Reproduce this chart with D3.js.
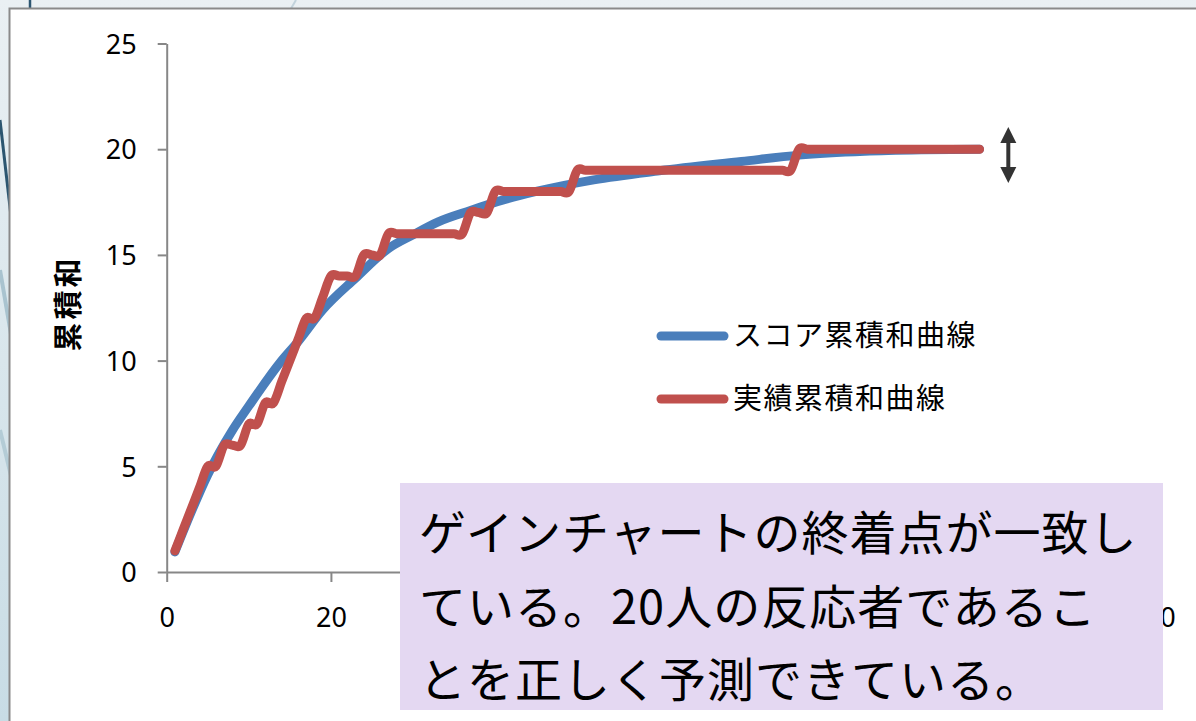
<!DOCTYPE html>
<html>
<head>
<meta charset="utf-8">
<script src="https://cdn.jsdelivr.net/npm/d3@7/dist/d3.min.js"></script>
<style>
  html, body { margin: 0; padding: 0; background: #ffffff; }
  svg { display: block; }
</style>
</head>
<body>
<svg id="chart" width="1196" height="721"></svg>
<script>
// Cumulative count of actual responders, customers ranked 1..99 by score
const actualCumulative = [
  1, 2, 3, 4, 5, 5, 6, 6, 6, 7,
  7, 8, 8, 9, 10, 11, 12, 12, 13, 14,
  14, 14, 14, 15, 15, 15, 16, 16, 16, 16,
  16, 16, 16, 16, 16, 16, 17, 17, 17, 18,
  18, 18, 18, 18, 18, 18, 18, 18, 18, 19,
  19, 19, 19, 19, 19, 19, 19, 19, 19, 19,
  19, 19, 19, 19, 19, 19, 19, 19, 19, 19,
  19, 19, 19, 19, 19, 19, 20, 20, 20, 20,
  20, 20, 20, 20, 20, 20, 20, 20, 20, 20,
  20, 20, 20, 20, 20, 20, 20, 20, 20
];

// Cumulative sum of predicted scores, sampled along the ranking
const scoreRank = [1, 3, 5, 8, 10, 14, 16, 19, 23, 27, 30, 33, 37, 41, 45, 52, 60, 70, 77, 85, 92, 99];
const scoreCumulative = [0.95, 2.85, 4.6, 6.7, 7.85, 10.0, 10.9, 12.4, 13.9, 15.3, 15.95, 16.55, 17.1, 17.6, 18.0, 18.55, 18.98, 19.42, 19.72, 19.9, 19.97, 20.0];

const xTicks = [0, 20, 40, 60, 80, 100, 120];
const yTicks = [0, 5, 10, 15, 20, 25];

const yTitle = "累積和";
const seriesNames = ["スコア累積和曲線", "実績累積和曲線"];
const seriesColors = ["#4a7ebb", "#c0504d"];
const noteLines = [
  "ゲインチャートの終着点が一致し",
  "ている。20人の反応者であるこ",
  "とを正しく予測できている。"
];

// Double arrow marking the shared end point (x, from, to)
const arrowX = 102.5;
const arrowFrom = 21.05;
const arrowTo = 18.4;

const svg = d3.select("#chart");
const W = 1196, H = 721;

// ---- slide background around the chart frame ----
const defs = svg.append("defs");
const bg = defs.append("linearGradient").attr("id", "bgGrad")
  .attr("x1", 0).attr("y1", 0).attr("x2", 0).attr("y2", 1);
bg.append("stop").attr("offset", "0%").attr("stop-color", "#eaf0f3");
bg.append("stop").attr("offset", "100%").attr("stop-color", "#c8dce5");
svg.append("rect").attr("width", W).attr("height", H).attr("fill", "url(#bgGrad)");

const deco = svg.append("g").attr("fill", "none");
deco.append("path").attr("d", "M0,120 L12,225").attr("stroke", "#2c5670").attr("stroke-width", 3);
deco.append("path").attr("d", "M0,270 L12,340").attr("stroke", "#a9c3cf").attr("stroke-width", 4);
deco.append("path").attr("d", "M0,430 L12,480").attr("stroke", "#b4ccd6").attr("stroke-width", 4);
deco.append("path").attr("d", "M30,0 L30,12").attr("stroke", "#2c5670").attr("stroke-width", 2.5);
deco.append("path").attr("d", "M296,0 L289,12").attr("stroke", "#c2d3dc").attr("stroke-width", 2);

// chart frame
svg.append("rect")
  .attr("x", 9.5).attr("y", 8.5).attr("width", W + 20).attr("height", H + 20)
  .attr("fill", "#ffffff").attr("stroke", "#8a8a8a").attr("stroke-width", 2);

// ---- scales ----
const x = d3.scaleLinear().domain([0, 120]).range([166.7, 1152]);
const y = d3.scaleLinear().domain([0, 25]).range([572, 43.5]);

const axisColor = "#878787";
const tickFont = "'Noto Sans', 'Open Sans', sans-serif";

const yAxis = svg.append("g")
  .attr("transform", `translate(${x(0)},0)`)
  .call(d3.axisLeft(y).tickValues(yTicks).tickSize(9).tickSizeOuter(0).tickPadding(21));
const xAxis = svg.append("g")
  .attr("transform", `translate(0,${y(0)})`)
  .call(d3.axisBottom(x).tickValues(xTicks).tickSize(10).tickSizeOuter(0).tickPadding(26));

[yAxis, xAxis].forEach(g => {
  g.select(".domain").attr("stroke", axisColor).attr("stroke-width", 2);
  g.selectAll(".tick line").attr("stroke", axisColor).attr("stroke-width", 2);
  g.selectAll(".tick text")
    .attr("fill", "#000").style("font-family", tickFont).style("font-size", "27px");
});
yAxis.selectAll(".tick text").attr("dy", "0.36em");
xAxis.selectAll(".tick text").attr("dy", "0.72em");

// y axis title
svg.append("text")
  .attr("transform", `translate(69,${y(12.7)}) rotate(-90)`)
  .attr("text-anchor", "middle").attr("dy", "0.36em")
  .style("font-family", "'Noto Sans CJK JP', sans-serif")
  .style("font-size", "29px").style("font-weight", "bold")
  .style("letter-spacing", "3px")
  .text(yTitle);

// ---- curves ----
const scoreData = scoreRank.map((r, i) => [r, scoreCumulative[i]]);
const actualData = actualCumulative.map((v, i) => [i + 1, v]);

const scoreLine = d3.line()
  .x(d => x(d[0])).y(d => y(d[1]))
  .curve(d3.curveMonotoneX);
const actualLine = d3.line()
  .x(d => x(d[0])).y(d => y(d[1]))
  .curve(d3.curveCardinal.tension(0));

svg.append("path").datum(scoreData)
  .attr("d", scoreLine).attr("fill", "none")
  .attr("stroke", seriesColors[0]).attr("stroke-width", 9)
  .attr("stroke-linecap", "round").attr("stroke-linejoin", "round");

svg.append("path").datum(actualData)
  .attr("d", actualLine).attr("fill", "none")
  .attr("stroke", seriesColors[1]).attr("stroke-width", 9)
  .attr("stroke-linecap", "round").attr("stroke-linejoin", "round");

// ---- legend ----
const legend = svg.append("g");
const legendRows = [336, 399];
seriesNames.forEach((name, i) => {
  legend.append("line")
    .attr("x1", 661).attr("x2", 724)
    .attr("y1", legendRows[i]).attr("y2", legendRows[i])
    .attr("stroke", seriesColors[i]).attr("stroke-width", 9)
    .attr("stroke-linecap", "round");
  legend.append("text")
    .attr("x", 733).attr("y", legendRows[i]).attr("dy", "0.36em")
    .style("font-family", "'Noto Sans CJK JP', sans-serif")
    .style("font-size", "29px").style("letter-spacing", "1.5px")
    .text(name);
});

// ---- end point arrow ----
const ax = x(arrowX), aTop = y(arrowFrom), aBot = y(arrowTo);
const head = 16, halfW = 8;
const arrow = svg.append("g").attr("fill", "#333333").attr("stroke", "#333333");
arrow.append("line")
  .attr("x1", ax).attr("x2", ax).attr("y1", aTop + head - 2).attr("y2", aBot - head + 2)
  .attr("stroke-width", 4);
arrow.append("path").attr("stroke", "none")
  .attr("d", `M${ax},${aTop} L${ax + halfW},${aTop + head} L${ax - halfW},${aTop + head} Z`);
arrow.append("path").attr("stroke", "none")
  .attr("d", `M${ax},${aBot} L${ax + halfW},${aBot - head} L${ax - halfW},${aBot - head} Z`);

// ---- note box ----
const note = svg.append("g");
note.append("rect")
  .attr("x", 400).attr("y", 483).attr("width", 763).attr("height", 227)
  .attr("fill", "#e4d8f2");
const noteBase = [550, 624, 697];
noteLines.forEach((t, i) => {
  note.append("text")
    .attr("x", 419).attr("y", noteBase[i])
    .style("font-family", "'Noto Sans CJK JP', sans-serif")
    .style("font-size", "47px")
    .style("letter-spacing", "1px")
    .attr("fill", "#000")
    .text(t);
});
</script>
</body>
</html>
